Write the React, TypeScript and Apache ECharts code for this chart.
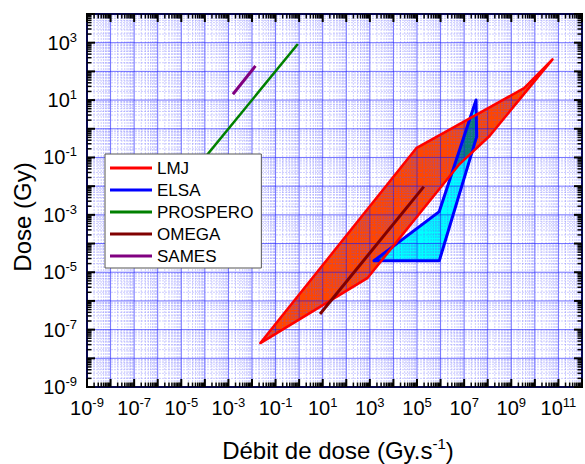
import React, { useEffect, useRef } from 'react';
import * as echarts from 'echarts';

// Axis ranges (decades, log10 units)
const X_MIN = -9;
const X_MAX = 12;
const Y_MIN = -9;
const Y_MAX = 4;

// Series data (dose rate in Gy/s, dose in Gy)
const lmjRate = [0.0226, 9.3e4, 3.5e9, 5.6e10, 1.2e8, 5.9e6, 780];
const lmjDose = [3.4e-8, 0.21, 26, 263, 0.56, 0.055, 6.2e-6];
const elsaRate = [1.5e3, 8.8e5, 3.4e7, 3.2e7, 8.8e5];
const elsaDose = [2.5e-5, 2.5e-5, 0.53, 10, 1.3e-3];
const prosperoRate = [1e-5, 0.88];
const prosperoDose = [0.0098, 900];
const omegaRate = [7.7, 1.95e5];
const omegaDose = [3.5e-7, 9.6e-3];
const samesRate = [1.55e-3, 0.014];
const samesDose = [16, 155];

const legendNames = ['LMJ', 'ELSA', 'PROSPERO', 'OMEGA', 'SAMES'];
const FONT = '"Liberation Sans", Arial, Helvetica, sans-serif';

const lg = (v: number) => Math.log10(v);
const toPts = (xs: number[], ys: number[]) => xs.map((x, i) => [lg(x), lg(ys[i])]);

// convex decomposition of the LMJ band (vertex indices)
const lmjTriangles = [
  [0, 1, 6],
  [1, 5, 6],
  [1, 2, 5],
  [2, 4, 5],
  [2, 3, 4],
];

function clipPoly(subject: number[][], clip: number[][]): number[][] {
  let c = clip.slice();
  let area = 0;
  for (let i = 0; i < c.length; i++) {
    const p = c[i], q = c[(i + 1) % c.length];
    area += p[0] * q[1] - q[0] * p[1];
  }
  if (area < 0) c = c.reverse();
  let output = subject.slice();
  for (let i = 0; i < c.length; i++) {
    const a = c[i], b = c[(i + 1) % c.length];
    const input = output;
    output = [];
    if (!input.length) break;
    const inside = (p: number[]) => (b[0] - a[0]) * (p[1] - a[1]) - (b[1] - a[1]) * (p[0] - a[0]) >= 0;
    const inter = (p: number[], q: number[]) => {
      const x1 = p[0], y1 = p[1], x2 = q[0], y2 = q[1];
      const x3 = a[0], y3 = a[1], x4 = b[0], y4 = b[1];
      const d = (x1 - x2) * (y3 - y4) - (y1 - y2) * (x3 - x4);
      const t = ((x1 - x3) * (y3 - y4) - (y1 - y3) * (x3 - x4)) / d;
      return [x1 + t * (x2 - x1), y1 + t * (y2 - y1)];
    };
    for (let j = 0; j < input.length; j++) {
      const cur = input[j];
      const prev = input[(j + input.length - 1) % input.length];
      if (inside(cur)) {
        if (!inside(prev)) output.push(inter(prev, cur));
        output.push(cur);
      } else if (inside(prev)) {
        output.push(inter(prev, cur));
      }
    }
  }
  return output;
}

const supLabel = (v: number) => {
  const n = Math.round(v);
  if (Math.abs(n % 2) !== 1) return '';
  return '{b|10}{s|' + n + '}';
};

export default function App() {
  const ref = useRef<HTMLDivElement>(null);
  useEffect(() => {
    document.body.style.margin = '0';
    if (!ref.current) return;
    const chart = echarts.init(ref.current, undefined, { renderer: 'svg' });

    const lmjPts = toPts(lmjRate, lmjDose);
    const elsaPts = toPts(elsaRate, elsaDose);
    const overlap = lmjTriangles
      .map((t) => clipPoly(elsaPts, t.map((i) => lmjPts[i])))
      .filter((p) => p.length >= 3);

    // grid line / tick definitions derived from the axis ranges
    const gridData: number[][] = [];
    const tickData: number[][] = [];
    for (let n = X_MIN; n <= X_MAX; n++) {
      gridData.push([0, n, 1]);
      tickData.push([0, n, 1], [1, n, 1]);
      if (n < X_MAX) {
        for (let k = 2; k <= 9; k++) {
          gridData.push([0, n + lg(k), 0]);
          tickData.push([0, n + lg(k), 0], [1, n + lg(k), 0]);
        }
      }
    }
    for (let n = Y_MIN; n <= Y_MAX; n++) {
      gridData.push([1, n, 1]);
      tickData.push([2, n, 1], [3, n, 1]);
      if (n < Y_MAX) {
        for (let k = 2; k <= 9; k++) {
          gridData.push([1, n + lg(k), 0]);
          tickData.push([2, n + lg(k), 0], [3, n + lg(k), 0]);
        }
      }
    }

    const majorStyle = { stroke: 'rgba(20,20,255,0.6)', lineWidth: 1 };
    const minorStyle = { stroke: 'rgba(90,90,255,0.3)', lineWidth: 1, lineDash: [2, 1] };

    const polySeries = (name: string, pts: number[][], style: any, z: number, color: string) => ({
      type: 'custom',
      name,
      z,
      silent: true,
      itemStyle: { color },
      data: [[pts[0][0], pts[0][1]]],
      renderItem: (_p: any, api: any) => ({
        type: 'polygon',
        shape: { points: pts.map((p) => api.coord(p)) },
        style,
      }),
    });

    const lineSeries = (name: string, xs: number[], ys: number[], color: string, width: number) => ({
      type: 'line',
      name,
      z: 6,
      silent: true,
      symbol: 'none',
      showSymbol: false,
      itemStyle: { color },
      lineStyle: { color, width, cap: 'butt' },
      data: toPts(xs, ys),
    });

    const axisLabelRich = {
      b: { fontSize: 20, fontFamily: FONT, color: '#000', lineHeight: 24 },
      s: { fontSize: 13, fontFamily: FONT, color: '#000', lineHeight: 12, verticalAlign: 'top' },
    };

    chart.setOption({
      animation: false,
      grid: {
        left: 87,
        top: 14,
        width: 505.5,
        height: 373,
        show: true,
        borderColor: '#000',
        borderWidth: 2,
        backgroundColor: 'transparent',
      },
      xAxis: {
        type: 'value',
        min: X_MIN,
        max: X_MAX,
        interval: 1,
        axisLine: { show: true, onZero: false, lineStyle: { color: '#000', width: 2 } },
        axisTick: { show: false },
        splitLine: { show: false },
        axisLabel: { formatter: supLabel, rich: axisLabelRich, margin: 9, interval: 0 },
      },
      yAxis: {
        type: 'value',
        min: Y_MIN,
        max: Y_MAX,
        interval: 1,
        axisLine: { show: true, onZero: false, lineStyle: { color: '#000', width: 2 } },
        axisTick: { show: false },
        splitLine: { show: false },
        axisLabel: { formatter: supLabel, rich: axisLabelRich, margin: 10, interval: 0 },
      },
      legend: {
        data: legendNames,
        orient: 'vertical',
        left: 105,
        top: 154,
        icon: 'rect',
        itemWidth: 42,
        itemHeight: 3,
        itemGap: 0,
        padding: [3, 8, 1, 5],
        backgroundColor: '#fff',
        borderColor: '#555',
        borderWidth: 1,
        selectedMode: false,
        z: 10,
        textStyle: { fontSize: 17, fontFamily: FONT, color: '#000', lineHeight: 22 },
      },
      graphic: [
        {
          type: 'text',
          x: 22.5,
          y: 217,
          rotation: Math.PI / 2,
          style: {
            text: 'Dose (Gy)',
            fontSize: 24,
            fontFamily: FONT,
            fill: '#000',
            align: 'center',
            verticalAlign: 'middle',
          },
        },
        {
          type: 'text',
          x: 338,
          y: 450,
          style: {
            text: '{a|Débit de dose (Gy.s}{s|-1}{a|)}',
            align: 'center',
            verticalAlign: 'middle',
            rich: {
              a: { fontSize: 24, fontFamily: FONT, fill: '#000', color: '#000', lineHeight: 28 },
              s: { fontSize: 15, fontFamily: FONT, fill: '#000', color: '#000', lineHeight: 14, verticalAlign: 'top' },
            },
          },
        },
      ],
      series: [
        polySeries('LMJ fill', lmjPts, { fill: 'rgb(255,70,0)' }, 1, 'rgb(255,70,0)'),
        polySeries('ELSA fill', elsaPts, { fill: 'rgb(0,255,255)' }, 1, 'rgb(0,255,255)'),
        {
          type: 'custom',
          name: 'overlap',
          z: 1,
          silent: true,
          data: [[elsaPts[0][0], elsaPts[0][1]]],
          renderItem: (_p: any, api: any) => ({
            type: 'group',
            children: overlap.map((poly) => ({
              type: 'polygon',
              shape: { points: poly.map((p) => api.coord(p)) },
              style: { fill: 'rgb(10,125,120)', stroke: 'rgb(10,125,120)', lineWidth: 0.5 },
            })),
          }),
        },
        {
          type: 'custom',
          name: 'gridlines',
          z: 3,
          silent: true,
          data: gridData,
          renderItem: (params: any, api: any) => {
            const dir = api.value(0);
            const pos = api.value(1);
            const major = api.value(2);
            const cs = params.coordSys;
            const style = major ? majorStyle : minorStyle;
            if (dir === 0) {
              const x = api.coord([pos, Y_MIN])[0];
              return { type: 'line', shape: { x1: x, y1: cs.y, x2: x, y2: cs.y + cs.height }, style };
            }
            const y = api.coord([X_MIN, pos])[1];
            return { type: 'line', shape: { x1: cs.x, y1: y, x2: cs.x + cs.width, y2: y }, style };
          },
        },
        polySeries('ELSA', elsaPts, { fill: 'none', stroke: '#0000ff', lineWidth: 3, lineJoin: 'round' }, 4, '#0000ff'),
        polySeries('LMJ', lmjPts, { fill: 'none', stroke: '#ff0000', lineWidth: 2.5, lineJoin: 'round' }, 5, '#ff0000'),
        lineSeries('PROSPERO', prosperoRate, prosperoDose, '#008000', 2.5),
        lineSeries('OMEGA', omegaRate, omegaDose, '#800000', 3),
        lineSeries('SAMES', samesRate, samesDose, '#800080', 3),
        {
          type: 'custom',
          name: 'ticks',
          z: 7,
          silent: true,
          data: tickData,
          renderItem: (params: any, api: any) => {
            const side = api.value(0);
            const pos = api.value(1);
            const major = api.value(2);
            const cs = params.coordSys;
            const len = major ? 8 : 4.5;
            const style = { stroke: '#000', lineWidth: major ? 2 : 1.5 };
            if (side === 0 || side === 1) {
              const x = api.coord([pos, Y_MIN])[0];
              const y0 = side === 0 ? cs.y + cs.height : cs.y;
              const y1 = side === 0 ? y0 - len : y0 + len;
              return { type: 'line', shape: { x1: x, y1: y0, x2: x, y2: y1 }, style };
            }
            const y = api.coord([X_MIN, pos])[1];
            const x0 = side === 2 ? cs.x : cs.x + cs.width;
            const x1 = side === 2 ? x0 + len : x0 - len;
            return { type: 'line', shape: { x1: x0, y1: y, x2: x1, y2: y }, style };
          },
        },
      ],
    });
    return () => chart.dispose();
  }, []);
  return <div ref={ref} style={{ width: 585, height: 464, position: 'absolute', left: 0, top: 0 }} />;
}
